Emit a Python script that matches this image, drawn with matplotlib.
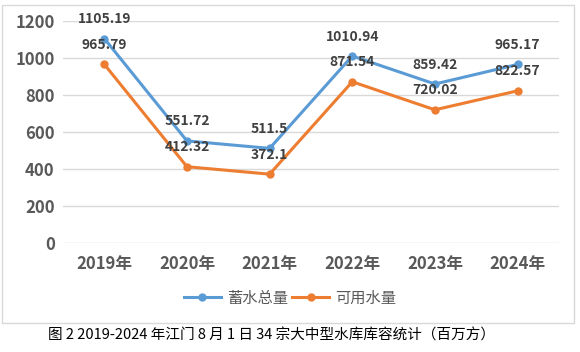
import matplotlib.pyplot as plt
from matplotlib.patches import Rectangle

plt.rcParams['font.family'] = ['Noto Sans CJK SC', 'DejaVu Sans']

# 数据
years = ['2019年', '2020年', '2021年', '2022年', '2023年', '2024年']
total = [1105.19, 551.72, 511.5, 1010.94, 859.42, 965.17]
usable = [965.79, 412.32, 372.1, 871.54, 720.02, 822.57]
total_labels = ['1105.19', '551.72', '511.5', '1010.94', '859.42', '965.17']
usable_labels = ['965.79', '412.32', '372.1', '871.54', '720.02', '822.57']

fig = plt.figure(figsize=(5.8, 3.52), dpi=100)
ax = fig.add_axes([0.1086, 0.3097, 0.855, 0.6306])

x = range(len(years))
ax.plot(x, total, color='#5B9BD5', lw=2.2, marker='o', ms=5, label='蓄水总量', zorder=3)
ax.plot(x, usable, color='#ED7D31', lw=2.2, marker='o', ms=5, label='可用水量', zorder=3)

for xi, v, t in zip(x, total, total_labels):
    ax.annotate(t, (xi, v), xytext=(0, 14), textcoords='offset points',
                ha='center', va='center', fontsize=10, fontweight='bold', color='#404040')
for xi, v, t in zip(x, usable, usable_labels):
    ax.annotate(t, (xi, v), xytext=(0, 14), textcoords='offset points',
                ha='center', va='center', fontsize=10, fontweight='bold', color='#404040')

ax.set_xlim(-0.5, 5.5)
ax.set_ylim(0, 1200)
ax.set_yticks(range(0, 1201, 200))
ax.set_xticks(list(x))
ax.set_xticklabels(years)
ax.grid(axis='y', color='#D9D9D9', lw=1)
ax.set_axisbelow(True)
for s in ax.spines.values():
    s.set_visible(False)
ax.tick_params(length=0, labelsize=12, labelcolor='#595959')
ax.tick_params(axis='x', pad=9)
ax.tick_params(axis='y', pad=6)
for lab in ax.get_xticklabels() + ax.get_yticklabels():
    lab.set_fontweight('bold')

fig.legend(loc='center', bbox_to_anchor=(0.5, 0.153), ncol=2, frameon=False,
           fontsize=11, labelcolor='#595959', handlelength=2.4, columnspacing=0.3,
           handletextpad=0.4)

fig.patches.append(Rectangle((2 / 580, 1 - 323 / 352), 572 / 580, 318 / 352,
                             transform=fig.transFigure, fill=False,
                             edgecolor='#D9D9D9', lw=1))

fig.text(0.468, 1 - 336 / 352, '图 2 2019-2024 年江门 8 月 1 日 34 宗大中型水库库容统计（百万方）',
         ha='center', va='center', fontsize=10.5, color='black')

fig.savefig('out.png', dpi=100)
